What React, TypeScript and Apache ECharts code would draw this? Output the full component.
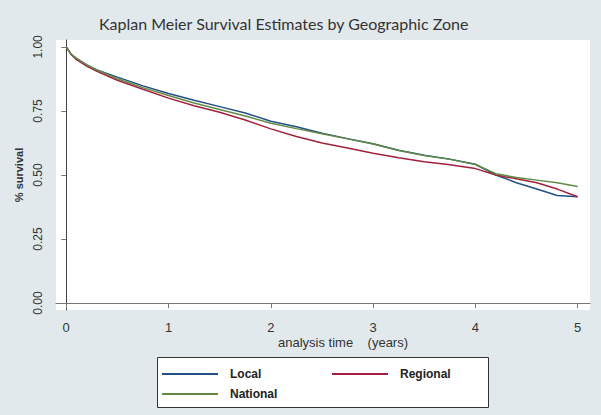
import React, { useEffect, useRef } from "react";
import * as echarts from "echarts";

const times = [0, 0.05, 0.1, 0.2, 0.3, 0.5, 0.75, 1.0, 1.25, 1.5, 1.75, 2.0, 2.25, 2.5, 2.75, 3.0, 3.25, 3.5, 3.75, 4.0, 4.2, 4.4, 4.6, 4.8, 5.0];
const localSurv = [1.0, 0.97, 0.955, 0.93, 0.91, 0.882, 0.848, 0.818, 0.792, 0.767, 0.742, 0.71, 0.688, 0.663, 0.642, 0.622, 0.597, 0.577, 0.562, 0.542, 0.5, 0.47, 0.445, 0.42, 0.415];
const regionalSurv = [1.0, 0.97, 0.95, 0.925, 0.905, 0.87, 0.835, 0.8, 0.77, 0.745, 0.715, 0.68, 0.65, 0.625, 0.605, 0.585, 0.567, 0.552, 0.54, 0.525, 0.5, 0.485, 0.47, 0.445, 0.415];
const nationalSurv = [1.0, 0.97, 0.955, 0.93, 0.91, 0.876, 0.841, 0.81, 0.781, 0.756, 0.73, 0.702, 0.681, 0.661, 0.641, 0.621, 0.596, 0.576, 0.561, 0.541, 0.505, 0.49, 0.48, 0.47, 0.455];
const xTicks = [0, 1, 2, 3, 4, 5];
const yTicks = [0, 0.25, 0.5, 0.75, 1.0];
const seriesNames = ["Local", "Regional", "National"];
const colors = ["#214f86", "#a3203c", "#628a45"];

function pairs(vals: number[]) {
  return times.map((t, i) => [t, vals[i]]);
}

const FONT = "Liberation Sans";

export default function App() {
  const ref = useRef<HTMLDivElement>(null);
  useEffect(() => {
    if (!ref.current) return;
    const chart = echarts.init(ref.current, undefined, { renderer: "svg" });
    const legendPos = [
      { left: 162, top: 368 },
      { left: 332, top: 368 },
      { left: 162, top: 388 },
    ];
    chart.setOption({
      animation: false,
      backgroundColor: "#e2e9ed",
      title: {
        text: "Kaplan Meier Survival Estimates by Geographic Zone",
        left: 94,
        top: 10,
        textStyle: { fontFamily: "Lato", fontSize: 16, fontWeight: "normal", color: "#333" },
      },
      grid: {
        left: 56,
        right: 11,
        top: 40,
        bottom: 105,
        show: true,
        backgroundColor: "#ffffff",
        borderWidth: 0,
      },
      xAxis: {
        type: "value",
        min: -0.1,
        max: 5.12,
        axisLine: { show: true, lineStyle: { color: "#777", width: 1 } },
        axisTick: { show: true, customValues: xTicks, length: 5, lineStyle: { color: "#777" } },
        axisLabel: {
          customValues: xTicks,
          fontFamily: FONT,
          fontSize: 13,
          color: "#333",
          margin: 11,
        },
        splitLine: { show: false },
      },
      yAxis: {
        type: "value",
        min: -0.027,
        max: 1.027,
        name: "% survival",
        nameLocation: "middle",
        nameGap: 32,
        nameTextStyle: { fontFamily: FONT, fontSize: 11, fontWeight: "bold", color: "#333" },
        axisLine: { show: true, lineStyle: { color: "#444", width: 1 } },
        axisTick: { show: true, customValues: yTicks, length: 5, lineStyle: { color: "#777" } },
        axisLabel: {
          customValues: yTicks,
          rotate: 90,
          formatter: (v: number) => v.toFixed(2),
          fontFamily: FONT,
          fontSize: 12,
          color: "#333",
          margin: 12,
        },
        splitLine: { show: false },
      },
      legend: seriesNames.map((n, i) => ({
        data: [n],
        left: legendPos[i].left,
        top: legendPos[i].top,
        icon: "rect",
        itemWidth: 56,
        itemHeight: 2,
        itemGap: 0,
        padding: 0,
        textStyle: {
          fontFamily: FONT,
          fontSize: 12,
          fontWeight: "bold",
          color: "#222",
          padding: [0, 0, 0, 7],
        },
      })),
      graphic: [
        {
          type: "rect",
          left: 157,
          top: 357,
          shape: { width: 331, height: 50 },
          style: { fill: "#ffffff", stroke: "#333", lineWidth: 1 },
          z: -1,
        },
        {
          type: "text",
          left: 278,
          top: 336,
          style: {
            text: "analysis time    (years)",
            fontFamily: FONT,
            fontSize: 13,
            fill: "#333",
          },
        },
      ],
      series: [localSurv, regionalSurv, nationalSurv].map((vals, i) => ({
        name: seriesNames[i],
        type: "line",
        data: pairs(vals),
        showSymbol: false,
        symbol: "none",
        lineStyle: { color: colors[i], width: 1.5 },
        itemStyle: { color: colors[i] },
      })),
    });
    return () => chart.dispose();
  }, []);
  return <div ref={ref} style={{ position: "fixed", left: 0, top: 0, width: 601, height: 415 }} />;
}
